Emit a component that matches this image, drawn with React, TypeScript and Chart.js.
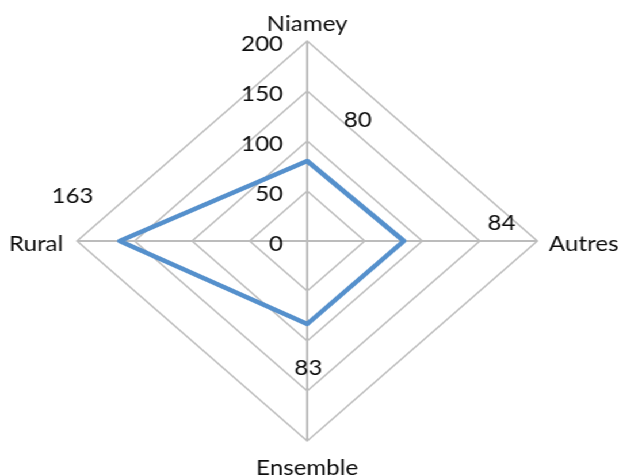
import React, { useEffect, useRef } from "react";
import { Chart, registerables } from "chart.js";

Chart.register(...registerables);

const categories = ["Niamey", "Autres", "Ensemble", "Rural"];
const values = [80, 84, 83, 163];
const tickValues = [0, 50, 100, 150, 200];

const FONT = "21px Lato";
const TEXT = "#0d0d0d";

// label offsets (unscaled px) relative to the library's positions
const pointLabelOffsets = [
  { dx: 0, dy: -10, align: "center" },
  { dx: 10, dy: 10, align: "left" },
  { dx: 0, dy: 34, align: "center" },
  { dx: -12, dy: 10, align: "right" },
];
const dataLabelOffsets = [
  { dx: 44, dy: -34 },
  { dx: 85, dy: -11 },
  { dx: 1, dy: 51 },
  { dx: -41, dy: -38 },
];

const labelPlugin = {
  id: "customLabels",
  afterDraw(chart: any) {
    const ctx = chart.ctx;
    const scale = chart.scales.r;
    ctx.save();
    ctx.font = FONT;
    ctx.fillStyle = TEXT;
    ctx.textBaseline = "alphabetic";
    // tick labels
    ctx.textAlign = "right";
    tickValues.forEach((v) => {
      const d = scale.getDistanceFromCenterForValue(v);
      ctx.fillText(String(v), scale.xCenter - 21, scale.yCenter - d + 10);
    });
    // point labels
    categories.forEach((c, i) => {
      const p = scale.getPointPosition(i, scale.drawingArea);
      const o = pointLabelOffsets[i];
      ctx.textAlign = o.align;
      ctx.fillText(c, p.x + o.dx, p.y + o.dy);
    });
    // data labels
    const meta = chart.getDatasetMeta(0);
    ctx.textAlign = "center";
    meta.data.forEach((pt: any, i: number) => {
      const o = dataLabelOffsets[i];
      ctx.fillText(String(values[i]), pt.x + o.dx, pt.y + o.dy);
    });
    ctx.restore();
  },
};

export default function App() {
  const ref = useRef<HTMLCanvasElement>(null);
  useEffect(() => {
    if (!ref.current) return;
    const chart = new Chart(ref.current, {
      type: "radar",
      data: {
        labels: categories,
        datasets: [
          {
            data: values,
            borderColor: "#5590cc",
            borderWidth: 4.5,
            borderJoinStyle: "round",
            fill: false,
            pointRadius: 0,
            pointHoverRadius: 0,
            tension: 0,
          },
        ],
      },
      options: {
        animation: false,
        responsive: true,
        maintainAspectRatio: false,
        layout: { padding: { left: 67, right: 71, top: 41, bottom: 34 } },
        plugins: { legend: { display: false }, tooltip: { enabled: false } },
        scales: {
          r: {
            min: 0,
            max: 200,
            ticks: { display: false, stepSize: 50 },
            grid: { color: "#bcbcbc", lineWidth: 1.5, circular: false },
            angleLines: { color: "#bcbcbc", lineWidth: 2 },
            pointLabels: { display: false },
          },
        },
      },
      plugins: [labelPlugin],
    } as any);
    return () => chart.destroy();
  }, []);
  return (
    <div
      style={{
        position: "fixed",
        left: 0,
        top: 0,
        width: 538,
        height: 475,
        transform: `scaleX(${619 / 538})`,
        transformOrigin: "0 0",
        background: "#fff",
      }}
    >
      <canvas ref={ref} />
    </div>
  );
}
